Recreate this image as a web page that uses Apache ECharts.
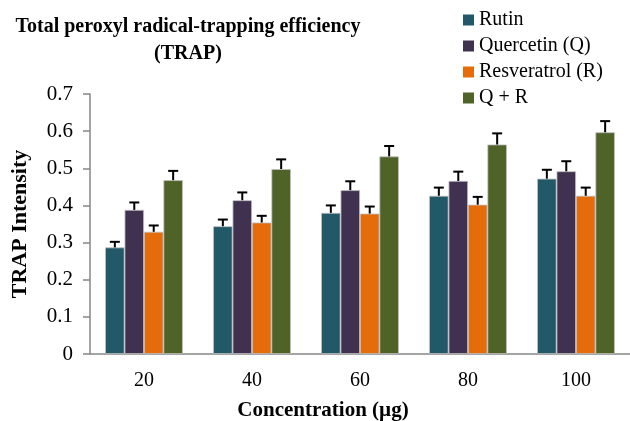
<!DOCTYPE html>
<html>
<head>
<meta charset="utf-8">
<script src="https://cdn.jsdelivr.net/npm/echarts@6/dist/echarts.min.js"></script>
<style>html,body{margin:0;padding:0;background:#fff}#c{width:630px;height:421px}</style>
</head>
<body>
<div id="c"></div>
<script>
var categories = ['20', '40', '60', '80', '100'];
var seriesNames = ['Rutin', 'Quercetin (Q)', 'Resveratrol (R)', 'Q + R'];
var rutin = [0.287, 0.344, 0.380, 0.426, 0.472];
var quercetin = [0.388, 0.414, 0.441, 0.466, 0.492];
var resveratrol = [0.329, 0.354, 0.378, 0.402, 0.426];
var qr = [0.468, 0.498, 0.532, 0.564, 0.597];
var rutinErr = [0.015, 0.018, 0.020, 0.022, 0.024];
var quercetinErr = [0.020, 0.021, 0.024, 0.025, 0.027];
var resveratrolErr = [0.017, 0.018, 0.019, 0.021, 0.022];
var qrErr = [0.025, 0.026, 0.028, 0.030, 0.030];
var yTicks = [0, 0.1, 0.2, 0.3, 0.4, 0.5, 0.6, 0.7];

var colors = ['#215968', '#403151', '#E46C0A', '#4F6228'];
var values = [rutin, quercetin, resveratrol, qr];
var errs = [rutinErr, quercetinErr, resveratrolErr, qrErr];
var FONT = '"Liberation Serif", "Times New Roman", serif';
var GAP = 0.28;

var series = [];
values.forEach(function (v, i) {
  series.push({
    name: seriesNames[i], type: 'bar', data: v,
    barGap: '0%', barCategoryGap: (GAP * 100) + '%',
    itemStyle: { color: colors[i], borderColor: '#c0c0c0', borderWidth: 0.8 }
  });
});
values.forEach(function (v, i) {
  var data = v.map(function (val, j) { return [j, val, val + errs[i][j]]; });
  series.push({
    type: 'custom', data: data, silent: true, z: 10,
    renderItem: function (params, api) {
      var band = api.size([1, 0])[0];
      var bw = band * (1 - GAP) / 4;
      var c = api.coord([api.value(0), api.value(1)]);
      var t = api.coord([api.value(0), api.value(2)]);
      var x = c[0] + (i - 1.5) * bw;
      var st = { stroke: '#000', lineWidth: 2 };
      return { type: 'group', children: [
        { type: 'line', shape: { x1: x, y1: c[1], x2: x, y2: t[1] }, style: st },
        { type: 'line', shape: { x1: x - 5, y1: t[1], x2: x + 5, y2: t[1] }, style: st }
      ]};
    }
  });
});

var chart = echarts.init(document.getElementById('c'));
chart.setOption({
  animation: false,
  textStyle: { fontFamily: FONT },
  title: {
    text: 'Total peroxyl radical-trapping efficiency\n(TRAP)',
    left: 183, top: 8, textAlign: 'center',
    textStyle: { fontFamily: FONT, fontWeight: 'bold', fontSize: 20, lineHeight: 27, color: '#000', align: 'center' }
  },
  legend: {
    orient: 'vertical', left: 458, top: 5,
    itemWidth: 11, itemHeight: 11, itemGap: 6,
    data: seriesNames,
    icon: 'rect',
    itemStyle: { borderWidth: 0 },
    textStyle: { fontFamily: FONT, fontSize: 20, lineHeight: 20, color: '#000' }
  },
  grid: { left: 90, right: 0, top: 94, bottom: 67, containLabel: false, outerBoundsMode: 'none' },
  xAxis: {
    type: 'category', data: categories,
    axisLine: { lineStyle: { color: '#868686', width: 1.5 } },
    axisTick: { show: false },
    axisLabel: { fontFamily: FONT, fontSize: 20, color: '#000', margin: 17 },
    name: 'Concentration (µg)', nameLocation: 'middle', nameGap: 46,
    nameTextStyle: { fontFamily: FONT, fontWeight: 'bold', fontSize: 21, color: '#000', padding: [0, 74, 0, 0] }
  },
  yAxis: {
    type: 'value', min: 0, max: 0.7, interval: 0.1,
    axisLine: { show: true, lineStyle: { color: '#868686', width: 1.5 } },
    axisTick: { show: true, length: 7, lineStyle: { color: '#868686', width: 1.5 } },
    splitLine: { show: false },
    axisLabel: { fontFamily: FONT, fontSize: 21, color: '#000', margin: 17,
      formatter: function (v) { return v === 0 ? '0' : v.toFixed(1); } },
    name: 'TRAP Intensity', nameLocation: 'middle', nameGap: 59, nameRotate: 90,
    nameTextStyle: { fontFamily: FONT, fontWeight: 'bold', fontSize: 22, color: '#000' }
  },
  series: series
});
</script>
</body>
</html>
